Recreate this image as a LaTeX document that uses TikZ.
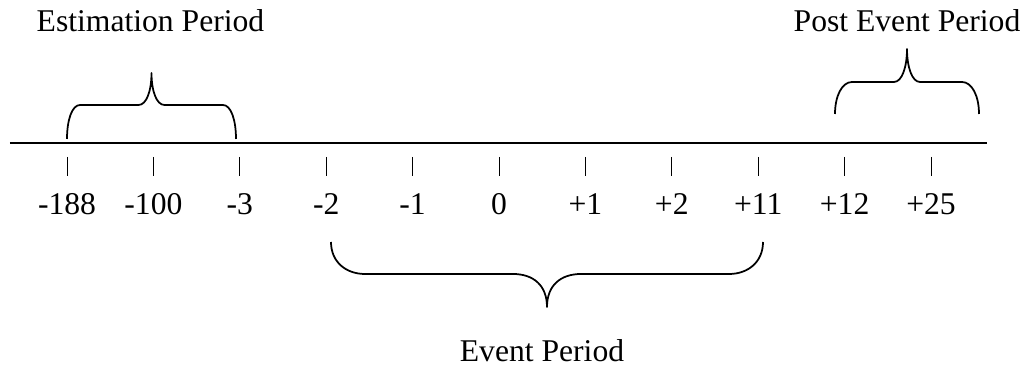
\documentclass[tikz,border=0pt]{standalone}
\usepackage{fontspec}
\setmainfont{Liberation Serif}
\usepackage{tikz}

\begin{document}
\begin{tikzpicture}[line width=0.2mm,
  lbl/.style={inner sep=0pt,anchor=base,font=\fontsize{18}{21}\selectfont},
  period/.style={line width=0.35mm,line join=round}]

\useasboundingbox (0,0) rectangle (20.52,7.4);

% time line
\coordinate (lineL) at (0.2,4.54);
\coordinate (lineR) at (19.74,4.54);
\draw[line width=0.35mm] (lineL) -- (lineR);

% ticks and day labels
\foreach \d [count=\i from 0] in {-188,-100,-3,-2,-1,0,+1,+2,+11,+12,+25}{
  \coordinate (t\i a) at (1.34+1.728*\i,4.26);
  \coordinate (t\i b) at (1.34+1.728*\i,3.88);
  \draw[line width=0.15mm] (t\i a) -- (t\i b);
  \node[lbl] (d\i) at (1.34+1.728*\i,3.1) {\d};
}

% estimation brace
\coordinate (estL) at (1.34,4.62);
\coordinate (estTip) at (3.03,5.94);
\coordinate (estR) at (4.72,4.62);
\draw[period] (estL) .. controls (1.34,5.0) and (1.44,5.30) .. (1.60,5.30)
  -- (2.77,5.30) .. controls (2.93,5.30) and (3.03,5.58) .. (estTip)
  .. controls (3.03,5.58) and (3.13,5.30) .. (3.29,5.30)
  -- (4.46,5.30) .. controls (4.62,5.30) and (4.72,5.0) .. (estR);

% post event brace
\coordinate (postL) at (16.7,5.12);
\coordinate (postTip) at (18.14,6.42);
\coordinate (postR) at (19.58,5.12);
\draw[period] (postL) .. controls (16.7,5.48) and (16.84,5.76) .. (17.04,5.76)
  -- (17.88,5.76) .. controls (18.04,5.76) and (18.14,6.06) .. (postTip)
  .. controls (18.14,6.06) and (18.24,5.76) .. (18.40,5.76)
  -- (19.24,5.76) .. controls (19.44,5.76) and (19.58,5.48) .. (postR);

% event brace
\coordinate (evL) at (6.62,2.56);
\coordinate (evTip) at (10.94,1.26);
\coordinate (evR) at (15.26,2.56);
\draw[period] (evL) .. controls (6.62,2.16) and (6.92,1.92) .. (7.30,1.92)
  -- (10.26,1.92) .. controls (10.66,1.92) and (10.94,1.70) .. (evTip)
  .. controls (10.94,1.70) and (11.22,1.92) .. (11.62,1.92)
  -- (14.58,1.92) .. controls (14.96,1.92) and (15.26,2.16) .. (evR);

% period names
\node[lbl] (estimation) at (3.01,6.76) {Estimation Period};
\node[lbl] (post) at (18.14,6.76) {Post Event Period};
\node[lbl] (event) at (10.84,0.16) {Event Period};
\end{tikzpicture}
\end{document}
